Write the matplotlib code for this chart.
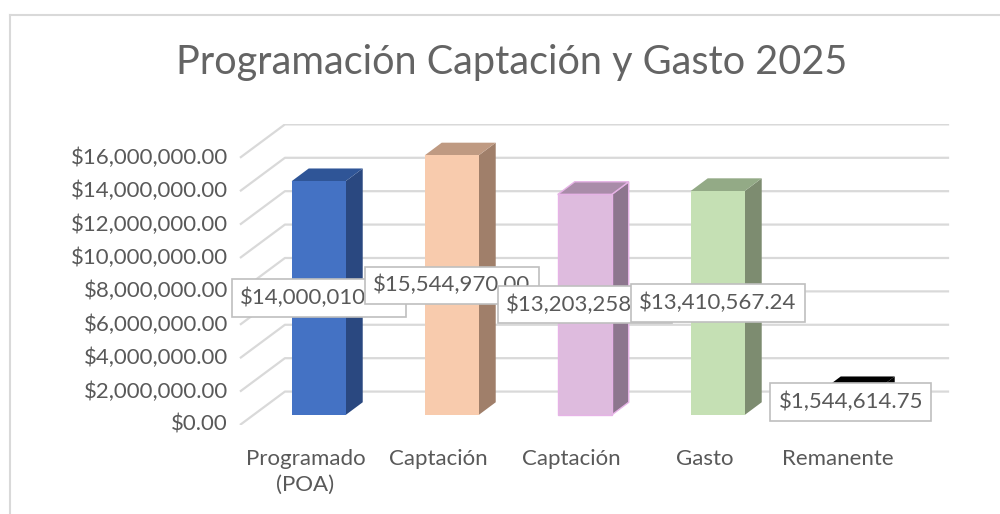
import matplotlib
matplotlib.use("Agg")
import matplotlib.pyplot as plt
from matplotlib.patches import Polygon
from matplotlib.lines import Line2D

# data
categories = ["Programado\n(POA)", "Captación", "Captación", "Gasto", "Remanente"]
values = [14000010.00, 15544970.00, 13203258.00, 13410567.24, 1544614.75]
labels = ["$14,000,010.00", "$15,544,970.00", "$13,203,258.00", "$13,410,567.24", "$1,544,614.75"]
yticks = list(range(0, 16000001, 2000000))
title = "Programación Captación y Gasto 2025"

# colours: front, side, top
front_cols = ["#4472C4", "#F8CBAD", "#DEBBDE", "#C5E0B4", "#000000"]
side_cols = ["#2A4880", "#A07F6A", "#8D768E", "#7D8C70", "#000000"]
top_cols = ["#2F5597", "#BF9A82", "#A98CA9", "#93AA86", "#000000"]
edge_cols = ["none", "none", "#E6B3E6", "none", "none"]

txt = "#595959"
grid = "#D9D9D9"
plt.rcParams["font.family"] = ["Lato", "DejaVu Sans"]

fig = plt.figure(figsize=(10, 5.14), dpi=100)
ax = fig.add_axes([0.2389, 0.1732, 0.7448, 0.5848])
ax.set_xlim(-0.5, 5.1)
ax.set_ylim(0, 18000000)
ax.axis("off")

# 3d-ish geometry (in data units)
wall_x0 = -0.492   # front edge of side wall
wall_dx = 0.338    # depth of the box
wall_dy = 2000000
back_x1 = 4.84
bar_ox, bar_oy = 0.1, 600000    # bar plane offset from front
bar_w = 0.406
bar_dx, bar_dy = 0.128, 760000

# gridlines: side wall diagonal + back wall
for v in yticks:
    ax.plot([wall_x0, wall_x0 + wall_dx, back_x1], [v, v + wall_dy, v + wall_dy],
            color=grid, lw=1.6, zorder=1, solid_capstyle="butt")
    ax.text(wall_x0 - 0.09, v, "${:,.2f}".format(v), ha="right", va="center",
            fontsize=16, color=txt)

# bars
for i, v in enumerate(values):
    xl = i + bar_ox - bar_w / 2
    xr = i + bar_ox + bar_w / 2
    y0 = bar_oy
    y1 = bar_oy + v
    front = Polygon([(xl, y0), (xr, y0), (xr, y1), (xl, y1)], closed=True,
                    facecolor=front_cols[i], edgecolor=edge_cols[i], lw=1, zorder=3)
    side = Polygon([(xr, y0), (xr + bar_dx, y0 + bar_dy), (xr + bar_dx, y1 + bar_dy), (xr, y1)],
                   closed=True, facecolor=side_cols[i], edgecolor=edge_cols[i], lw=1, zorder=3)
    top = Polygon([(xl, y1), (xr, y1), (xr + bar_dx, y1 + bar_dy), (xl + bar_dx, y1 + bar_dy)],
                  closed=True, facecolor=top_cols[i], edgecolor=edge_cols[i], lw=1, zorder=3)
    for p in (side, top, front):
        ax.add_patch(p)

# data labels, later ones on top (overlap as in the original)
for i, v in enumerate(values):
    ax.text(i + bar_ox, bar_oy + v / 2, labels[i], ha="center", va="center",
            fontsize=16, color=txt, zorder=10 + i,
            bbox=dict(boxstyle="square,pad=0.38", facecolor="white", edgecolor="#BFBFBF", lw=1.2))

# category labels
for i, c in enumerate(categories):
    ax.text(i, -1450000, c, ha="center", va="top", fontsize=16, color=txt,
            linespacing=1.35)

fig.text(0.512, 0.878, title, ha="center", va="center", fontsize=28.5, color="#646464")

# chart border
fig.add_artist(Line2D([0.010, 1.0], [1 - 14.5 / 514, 1 - 14.5 / 514], color=grid, lw=1.5))
fig.add_artist(Line2D([0.010, 0.010], [0, 1 - 14.5 / 514], color=grid, lw=1.5))

fig.savefig("out.png", dpi=100)
